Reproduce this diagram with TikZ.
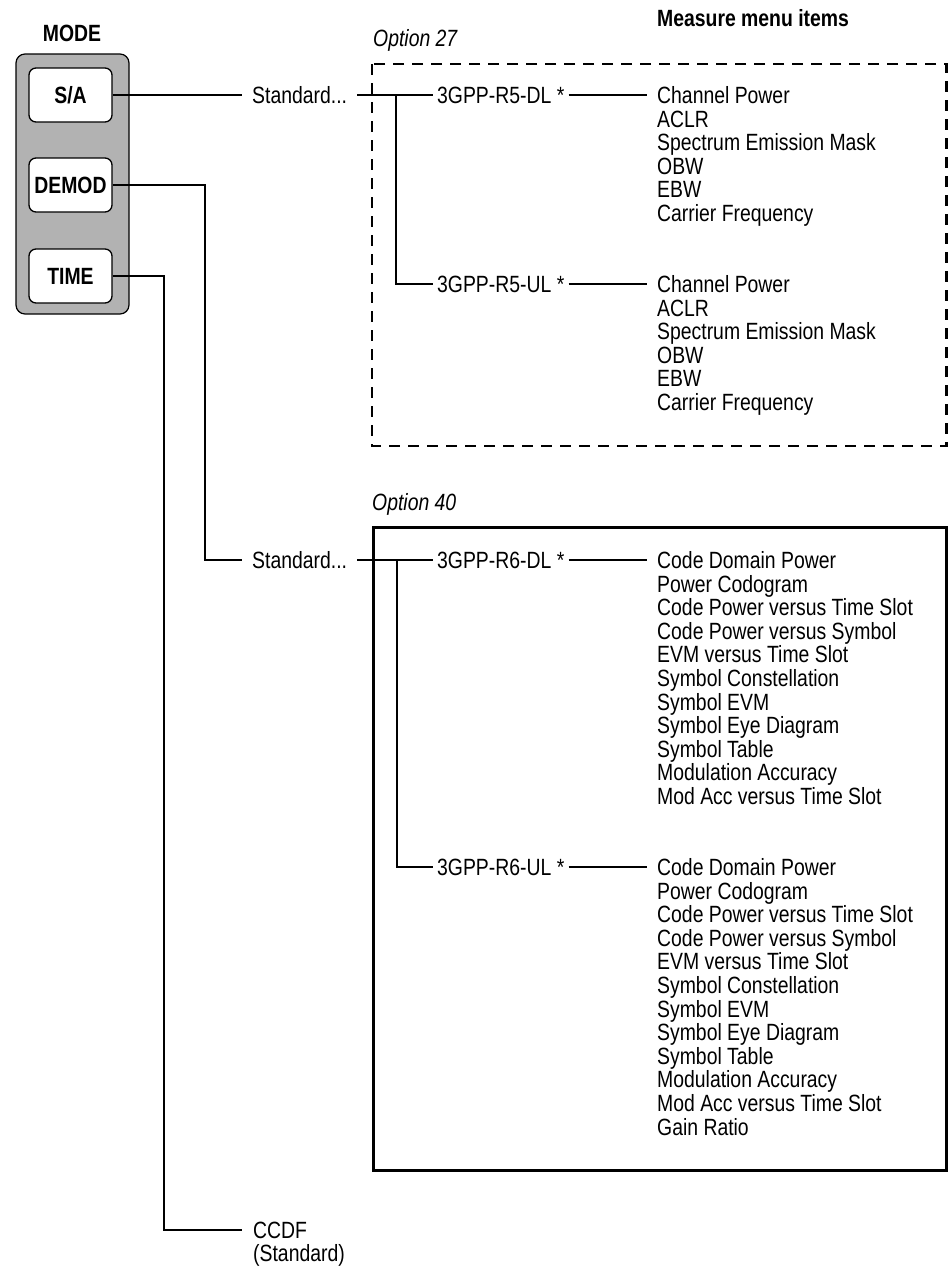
\documentclass[tikz,border=0pt]{standalone}
\usepackage{fontspec}
\setmainfont{Liberation Sans}[FakeStretch=0.825]
\newcommand{\menusize}{\fontsize{23.5pt}{23.6pt}\selectfont}
\tikzset{
  menutext/.style={font=\menusize, inner xsep=0pt, inner ysep=0pt, text height=17pt, text depth=0pt, anchor=west},
  stdtext/.style={menutext, inner xsep=10pt},
  bandtext/.style={menutext, inner xsep=4pt},
  itemtext/.style={menutext, inner xsep=10pt},
  modekey/.style={draw, fill=white, line width=1.3pt, rounded corners=7pt, minimum width=83pt, minimum height=54pt, inner sep=0pt, text height=17pt, text depth=0pt, font=\menusize\bfseries},
  conn/.style={line width=1.4pt}
}

\begin{document}
\begin{tikzpicture}[x=1pt,y=-1pt]
    \useasboundingbox (0,0) rectangle (950,1266);

    % Mode panel and keys
    \node[draw, fill=gray!60, line width=1.2pt, rounded corners=9pt, minimum width=113pt, minimum height=260pt] (panel) at (72.5,184) {};
    \node[menutext, anchor=center, font=\menusize\bfseries] (modelbl) at (72,33) {MODE};
    \node[modekey] (sa) at (70.5,95) {S/A};
    \node[modekey] (demod) at (70.5,185) {DEMOD};
    \node[modekey] (time) at (70.5,276) {TIME};

    % Option boxes
    \draw[line width=2.5pt, dash pattern=on 11pt off 8pt] (372,64) rectangle (946.5,446);
    \draw[line width=3pt] (373,527) rectangle (946.5,1170);
    \node[menutext, font=\menusize\itshape] (opt27) at (373,38) {Option 27};
    \node[menutext, font=\menusize\itshape] (opt40) at (372,502) {Option 40};
    \node[menutext, font=\menusize\bfseries] (measure) at (657,18) {Measure menu items};

    % Standards
    \node[stdtext] (std1) at (242,95) {Standard...};
    \node[stdtext] (std2) at (242,560) {Standard...};
    \node[font=\menusize, inner sep=0pt, anchor=north west, align=left] (ccdf) at (253,1221.5) {CCDF\\(Standard)};

    % Bands
    \node[bandtext] (r5dl) at (433,95) {3GPP-R5-DL *};
    \node[bandtext] (r5ul) at (433,284) {3GPP-R5-UL *};
    \node[bandtext] (r6dl) at (433,560) {3GPP-R6-DL *};
    \node[bandtext] (r6ul) at (433,867) {3GPP-R6-UL *};

    % Measure menu items
    \foreach \entry [count=\i from 0] in {Channel Power, ACLR, Spectrum Emission Mask, OBW, EBW, Carrier Frequency}
        \node[itemtext] (r5dl-\i) at (647,{95+\i*23.6}) {\entry};
    \foreach \entry [count=\i from 0] in {Channel Power, ACLR, Spectrum Emission Mask, OBW, EBW, Carrier Frequency}
        \node[itemtext] (r5ul-\i) at (647,{284+\i*23.6}) {\entry};
    \foreach \entry [count=\i from 0] in {Code Domain Power, Power Codogram, Code Power versus Time Slot, Code Power versus Symbol, EVM versus Time Slot, Symbol Constellation, Symbol EVM, Symbol Eye Diagram, Symbol Table, Modulation Accuracy, Mod Acc versus Time Slot}
        \node[itemtext] (r6dl-\i) at (647,{560+\i*23.6}) {\entry};
    \foreach \entry [count=\i from 0] in {Code Domain Power, Power Codogram, Code Power versus Time Slot, Code Power versus Symbol, EVM versus Time Slot, Symbol Constellation, Symbol EVM, Symbol Eye Diagram, Symbol Table, Modulation Accuracy, Mod Acc versus Time Slot, Gain Ratio}
        \node[itemtext] (r6ul-\i) at (647,{867+\i*23.6}) {\entry};

    % Bends and forks
    \coordinate (demodbend) at (205,185);
    \coordinate (timebend) at (164,276);
    \coordinate (r5fork) at (396,95);
    \coordinate (r6fork) at (397,560);
    \coordinate (ccdfin) at ([xshift=-11pt,yshift=-8.4pt]ccdf.north west);

    % Connectors
    \draw[conn] (sa.east) -- (std1.west);
    \draw[conn] (demod.east) -- (demodbend) |- (std2.west);
    \draw[conn] (time.east) -- (timebend) |- (ccdfin);
    \draw[conn] (std1.east) -- (r5dl.west);
    \draw[conn] (r5fork) |- (r5ul.west);
    \draw[conn] (std2.east) -- (r6dl.west);
    \draw[conn] (r6fork) |- (r6ul.west);
    \draw[conn] (r5dl.east) -- (r5dl-0.west);
    \draw[conn] (r5ul.east) -- (r5ul-0.west);
    \draw[conn] (r6dl.east) -- (r6dl-0.west);
    \draw[conn] (r6ul.east) -- (r6ul-0.west);
\end{tikzpicture}
\end{document}
